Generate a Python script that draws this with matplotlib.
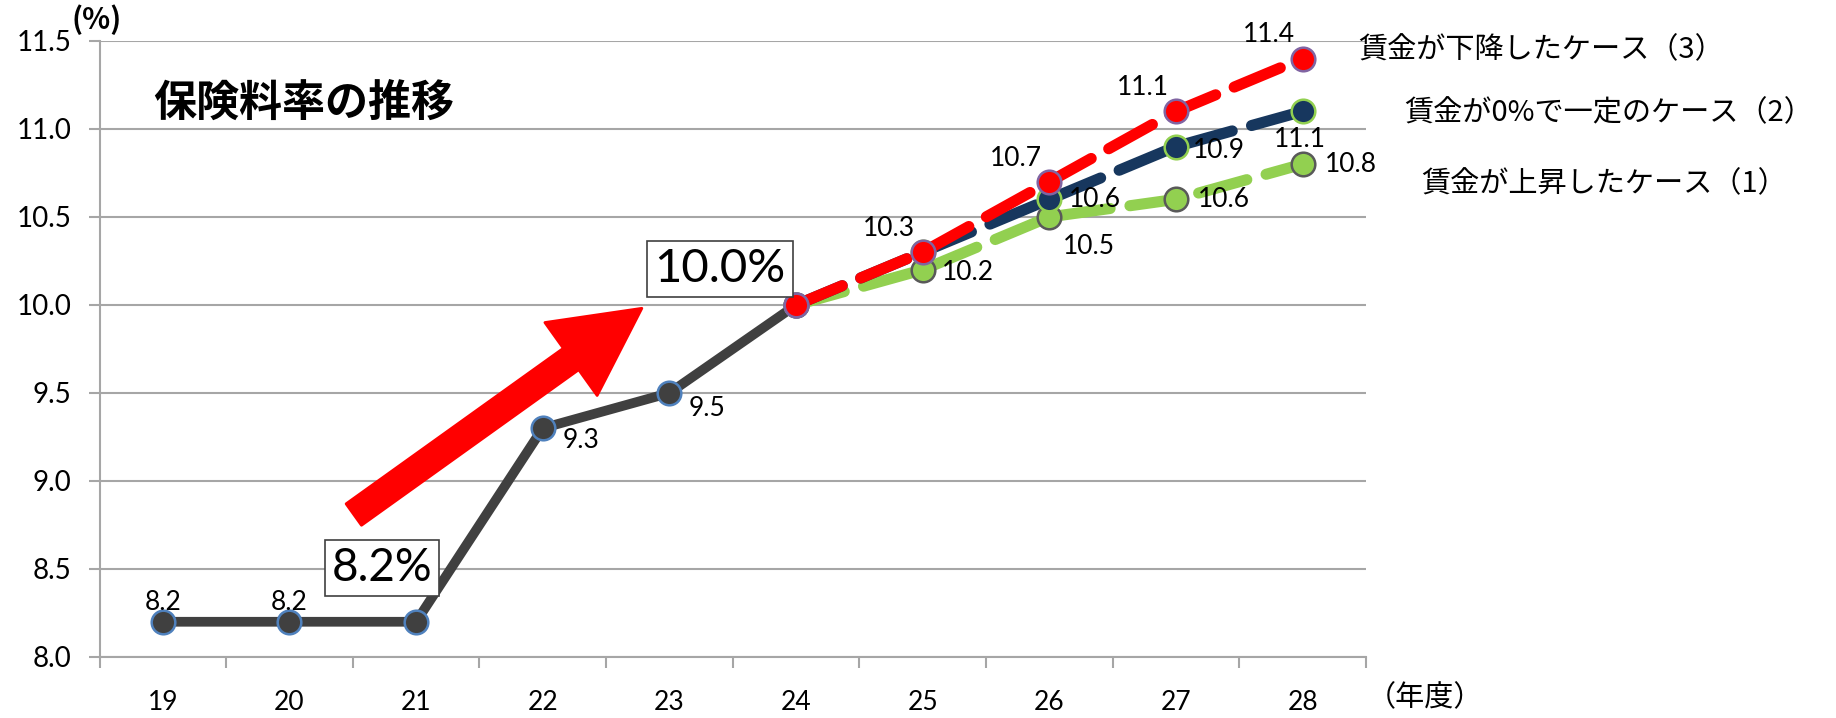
import matplotlib
matplotlib.use("Agg")
import matplotlib.pyplot as plt
from matplotlib.patches import FancyArrowPatch
from matplotlib.ticker import FixedLocator

plt.rcParams['font.family'] = ['Lato', 'Noto Sans CJK JP', 'DejaVu Sans']
JP = ['Noto Sans CJK JP']

years = ['19', '20', '21', '22', '23', '24', '25', '26', '27', '28']
y_ticks = [8.0, 8.5, 9.0, 9.5, 10.0, 10.5, 11.0, 11.5]
actual = [8.2, 8.2, 8.2, 9.3, 9.5, 10.0]
case1 = [10.0, 10.2, 10.5, 10.6, 10.8]   # 賃金が上昇したケース
case2 = [10.0, 10.3, 10.6, 10.9, 11.1]   # 賃金が0%で一定のケース
case3 = [10.0, 10.3, 10.7, 11.1, 11.4]   # 賃金が下降したケース
case_labels = ['賃金が上昇したケース（1）', '賃金が0%で一定のケース（2）', '賃金が下降したケース（3）']

fig = plt.figure(figsize=(18.36, 7.18), dpi=100)
ax = fig.add_axes([0.0542, 0.085, 0.6898, 0.858])

x_act = list(range(len(actual)))
x_proj = list(range(5, 5 + len(case1)))

grid_c = '#a6a6a6'
ax.set_xlim(-0.5, 9.5)
ax.set_ylim(8.0, 11.5)
ax.yaxis.grid(True, color=grid_c, lw=1.5)
ax.set_axisbelow(True)
for s in ['top', 'right']:
    ax.spines[s].set_visible(False)
for s in ['left', 'bottom']:
    ax.spines[s].set_color(grid_c)
    ax.spines[s].set_linewidth(1.5)
ax.set_yticks(y_ticks)
ax.set_yticklabels([f'{v:.1f}' for v in y_ticks])
ax.set_xticks(range(len(years)))
ax.set_xticklabels(years)
ax.xaxis.set_minor_locator(FixedLocator([i - 0.5 for i in range(len(years) + 1)]))
ax.tick_params(axis='x', which='major', length=0, pad=24, labelsize=19)
ax.tick_params(axis='x', which='minor', length=8, width=1.5, color=grid_c)
ax.tick_params(axis='y', length=8, width=1.5, color=grid_c, labelsize=20, pad=12)

# projections
dash = (4.5, 1.8)
ax.plot(x_proj, case1, color='#92d050', lw=8, ls=(0, dash), dash_capstyle='round',
        marker='o', ms=17, mfc='#92d050', mec='#595959', mew=1.8, zorder=3)
ax.plot(x_proj, case2, color='#17375e', lw=8, ls=(0, dash), dash_capstyle='round',
        marker='o', ms=17, mfc='#17375e', mec='#92d050', mew=1.8, zorder=4)
ax.plot(x_proj, case3, color='#ff0000', lw=8, ls=(0, dash), dash_capstyle='round',
        marker='o', ms=17, mfc='#ff0000', mec='#8064a2', mew=1.8, zorder=5)
# actual values
ax.plot(x_act, actual, color='#404040', lw=7, solid_capstyle='round',
        marker='o', ms=17, mfc='#404040', mec='#4f81bd', mew=1.8, zorder=2)
ax.plot([x_proj[0]], [case3[0]], ls='none', marker='o', ms=17, mfc='#ff0000',
        mec='#8064a2', mew=1.8, zorder=6)

lab = dict(fontsize=19, color='black', zorder=8)
def put(x, y, dx, dy, ha='center', va='center'):
    ax.annotate(f'{y:.1f}', (x, y), xytext=(dx, dy), textcoords='offset points',
                ha=ha, va=va, **lab)

put(0, actual[0], 0, 14)
put(1, actual[1], 0, 14)
put(3, actual[3], 14, -9, ha='left')
put(4, actual[4], 14, -11, ha='left')
# case 3
for x, y in zip(x_proj[1:], case3[1:]):
    put(x, y, -24, 17)
# case 2
put(7, case2[2], 14, 0, ha='left')
put(8, case2[3], 12, -3, ha='left')
put(9, case2[4], -2, -20)
# case 1
put(6, case1[1], 14, -2, ha='left')
put(7, case1[2], 10, -21, ha='left')
put(8, case1[3], 16, 0, ha='left')
put(9, case1[4], 16, 0, ha='left')

# boxed callouts
box = dict(boxstyle='square,pad=0.15', fc='white', ec='#404040', lw=1.2)
ax.text(1.73, 8.505, '8.2%', fontsize=33, ha='center', va='center', bbox=box, zorder=7)
ax.text(4.40, 10.205, '10.0%', fontsize=34, ha='center', va='center', bbox=box, zorder=7)

arrow = FancyArrowPatch((1.49, 8.8), (3.8, 9.99),
                        arrowstyle='simple,head_length=3.3,head_width=3.4,tail_width=1.0',
                        mutation_scale=19, color='#ff0000', lw=2, joinstyle='round',
                        zorder=7)
ax.add_patch(arrow)

ax.text(0.042, 0.9, '保険料率の推移', transform=ax.transAxes, fontsize=31,
        fontweight='bold', family=JP, ha='left', va='center')

fig.text(0.0528, 0.973, '(%)', fontsize=21, fontweight='bold', family=JP,
         ha='center', va='center')
fig.text(0.776, 0.027, '（年度）', fontsize=21, family=JP, ha='center', va='center')

fig.text(0.740, 0.930, case_labels[2], fontsize=21, family=JP, ha='left', va='center')
fig.text(0.765, 0.843, case_labels[1], fontsize=21, family=JP, ha='left', va='center')
fig.text(0.774, 0.743, case_labels[0], fontsize=21, family=JP, ha='left', va='center')

fig.savefig('out.png', dpi=100, facecolor='white')
